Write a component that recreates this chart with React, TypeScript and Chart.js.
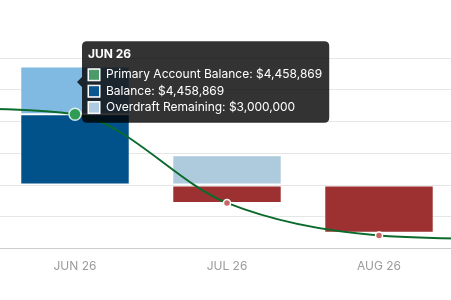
import React, { useEffect, useRef } from "react";
import { Chart, registerables, Tooltip } from "chart.js";

Chart.register(...registerables);

// Categories (MAY and SEP lie just outside the visible window)
const categories = ["MAY 26", "JUN 26", "JUL 26", "AUG 26", "SEP 26"];
const primaryAccountBalance = [4850000, 4458869, -1125000, -3170000, -3420000];
const balanceValues = [null, 4458869, -1125000, -3000000, null];
const overdraftRemaining = [null, 3000000, 1875000, 0, null];
const yMin = -4000000;
const yMax = 8000000;
const yStep = 2000000;
const hoveredIndex = 1;

const GREEN_LINE = "#0b6b2c";
const GREEN_POINT = "#2f9c55";
const RED_POINT = "#c66565";
const DARK_BLUE = "#01518a";
const LIGHT_BLUE = "#80b9e2";
const FADED_BLUE = "#aecadd";
const RED = "#9d3131";

(Tooltip as any).positioners.anchorX = function (items: any[], eventPosition: any) {
  if (!items.length) return false;
  return { x: items[0].element.x, y: eventPosition.y };
};

const fmt = (v: number) =>
  (v < 0 ? "-$" : "$") + Math.abs(v).toLocaleString("en-US");

export default function App() {
  const ref = useRef<HTMLCanvasElement | null>(null);

  useEffect(() => {
    document.body.style.margin = "0";
    Chart.defaults.font.family = "Inter";
    const ctx = ref.current!;
    const chart = new Chart(ctx, {
      type: "bar",
      data: {
        labels: categories,
        datasets: [
          {
            type: "line",
            label: "Primary Account Balance",
            data: primaryAccountBalance,
            stack: "line",
            order: 0,
            borderColor: GREEN_LINE,
            borderWidth: 2,
            cubicInterpolationMode: "monotone",
            fill: false,
            pointRadius: 3.5,
            pointBorderWidth: 1.5,
            pointBorderColor: "#ffffff",
            pointBackgroundColor: (c: any) =>
              primaryAccountBalance[c.dataIndex] >= 0 ? GREEN_POINT : RED_POINT,
            pointHoverRadius: 6,
            pointHoverBorderWidth: 1.5,
            pointHoverBorderColor: "rgba(255,255,255,0.8)",
            pointHoverBackgroundColor: (c: any) =>
              primaryAccountBalance[c.dataIndex] >= 0 ? GREEN_POINT : RED_POINT,
          } as any,
          {
            type: "bar",
            label: "Balance",
            data: balanceValues,
            stack: "bars",
            order: 1,
            backgroundColor: (c: any) =>
              (balanceValues[c.dataIndex] ?? 0) >= 0 ? DARK_BLUE : RED,
            hoverBackgroundColor: (c: any) =>
              (balanceValues[c.dataIndex] ?? 0) >= 0 ? DARK_BLUE : RED,
            borderColor: "rgba(255,255,255,0.55)",
            hoverBorderColor: "rgba(255,255,255,0.55)",
            borderWidth: 1,
            borderSkipped: false,
          } as any,
          {
            type: "bar",
            label: "Overdraft Remaining",
            data: overdraftRemaining,
            stack: "bars",
            order: 2,
            backgroundColor: (c: any) =>
              (balanceValues[c.dataIndex] ?? 0) < 0 ? FADED_BLUE : LIGHT_BLUE,
            hoverBackgroundColor: (c: any) =>
              (balanceValues[c.dataIndex] ?? 0) < 0 ? FADED_BLUE : LIGHT_BLUE,
            borderColor: "rgba(255,255,255,0.55)",
            hoverBorderColor: "rgba(255,255,255,0.55)",
            borderWidth: (c: any) => (overdraftRemaining[c.dataIndex] ? 1 : 0),
            borderSkipped: false,
          } as any,
        ],
      },
      options: {
        animation: false,
        responsive: false,
        events: [],
        layout: { autoPadding: false, padding: { top: 58, bottom: 15, left: 0, right: 0 } },
        scales: {
          x: {
            stacked: true,
            grid: { display: false, drawTicks: false },
            border: { display: true, color: "#cccccc" },
            ticks: { color: "#9b9b9b", font: { size: 12 }, padding: 11 },
          },
          y: {
            stacked: true,
            min: yMin,
            max: yMax,
            ticks: { display: false, stepSize: yStep },
            grid: { color: "#e6e6e6", drawTicks: false },
            border: { display: false },
          },
        },
        plugins: {
          legend: { display: false },
          tooltip: {
            position: "anchorX" as any,
            backgroundColor: "rgba(0,0,0,0.8)",
            titleFont: { size: 12, weight: "bold" },
            bodyFont: { size: 12 },
            titleColor: "#ffffff",
            bodyColor: "#ffffff",
            padding: { top: 6, left: 6, right: 7, bottom: 8 },
            boxPadding: 4,
            caretSize: 5,
            caretPadding: 2,
            cornerRadius: 5,
            callbacks: {
              label: (item: any) => `${item.dataset.label}: ${fmt(item.raw)}`,
              labelColor: (item: any) => {
                const colors = ["#4a9a6a", "#0a5690", "#afcbdf"];
                return {
                  borderColor: "#ffffff",
                  backgroundColor: colors[item.datasetIndex],
                  borderWidth: 1,
                } as any;
              },
            },
          },
        },
      },
    } as any);

    const active = [
      { datasetIndex: 0, index: hoveredIndex },
      { datasetIndex: 1, index: hoveredIndex },
      { datasetIndex: 2, index: hoveredIndex },
    ];
    chart.setActiveElements(active);
    const area = chart.chartArea;
    chart.tooltip!.setActiveElements(active, {
      x: chart.scales.x.getPixelForValue(hoveredIndex),
      y: area.top + 24,
    });
    chart.update();

    return () => chart.destroy();
  }, []);

  return (
    <div
      style={{
        position: "fixed",
        left: 0,
        top: 0,
        width: 451,
        height: 300,
        overflow: "hidden",
        background: "#ffffff",
      }}
    >
      <canvas
        ref={ref}
        width={760}
        height={300}
        style={{ position: "absolute", left: -153, top: 0, width: 760, height: 300 }}
      />
    </div>
  );
}
